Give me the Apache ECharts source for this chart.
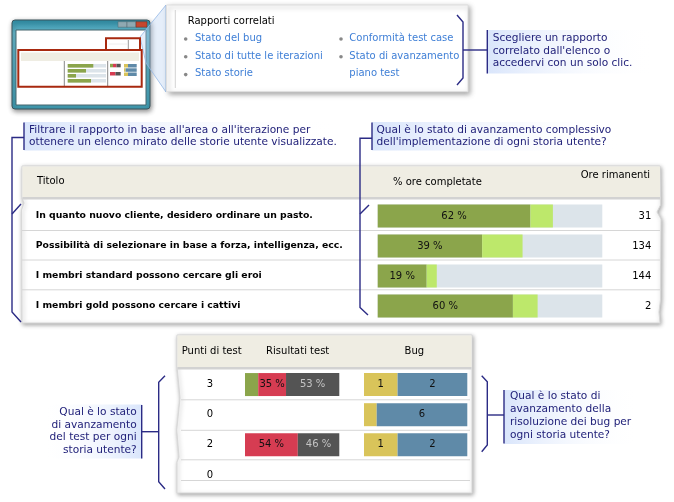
<!DOCTYPE html>
<html><head><meta charset="utf-8">
<script src="https://cdn.jsdelivr.net/npm/echarts@6/dist/echarts.min.js"></script>
<style>html,body{margin:0;padding:0;background:#fff}#c{width:674px;height:502px}</style>
</head><body><div id="c"></div>
<script>
// ---- data ----
const storyTitles = [
  "In quanto nuovo cliente, desidero ordinare un pasto.",
  "Possibilità di selezionare in base a forza, intelligenza, ecc.",
  "I membri standard possono cercare gli eroi",
  "I membri gold possono cercare i cattivi"
];
const hoursDoneWidth = [68, 46.5, 21.8, 60.2];
const hoursInProgressWidth = [10, 18, 4.5, 11];
const hoursDoneLabels = ["62 %", "39 %", "19 %", "60 %"];
const hoursRemaining = ["31", "134", "144", "2"];
const testPoints = ["3", "0", "2", "0"];
const testPassedWidth = [14, 0, 0, 0];
const testFailedWidth = [29.5, 0, 56, 0];
const testFailedLabels = ["35 %", "", "54 %", ""];
const testNotRunWidth = [56.5, 0, 44, 0];
const testNotRunLabels = ["53 %", "", "46 %", ""];
const bugActiveWidth = [32.5, 12.3, 32.5, 0];
const bugActiveLabels = ["1", "", "1", ""];
const bugResolvedWidth = [67.5, 87.7, 67.5, 0];
const bugResolvedLabels = ["2", "6", "2", ""];
const relatedReportsLeft = ["Stato del bug", "Stato di tutte le iterazioni", "Stato storie"];
const relatedReportsRight = ["Conformità test case", "Stato di avanzamento", "piano test"];

// ---- styles ----
const F = "DejaVu Sans";
const NAVY = "#22227a";
const BR = "#2b2b85";
const LINK = "#3f7fd6";
const SEP = "#d6d6d6";
const BEIGE = "#efede3";

function txt(x, y, s, opt) {
  opt = opt || {};
  return { type: 'text', x: x, y: y, z: 10, silent: true, style: {
    text: s, font: (opt.bold ? 'bold ' : '') + (opt.size || 10) + 'px ' + (opt.family || F),
    fill: opt.color || '#000', align: opt.align || 'left', textAlign: opt.align || 'left',
    verticalAlign: 'middle', textVerticalAlign: 'middle' } };
}
function line(x1, y1, x2, y2, color, w, z) {
  return { type: 'line', z: z == null ? 1 : z, silent: true, shape: { x1: x1, y1: y1, x2: x2, y2: y2 },
    style: { stroke: color, lineWidth: w || 1 } };
}
function poly(points, color, w) {
  return { type: 'polyline', z: 5, silent: true, shape: { points: points }, style: { stroke: color || BR, lineWidth: w || 1.4, fill: null } };
}
function rect(x, y, w, h, fill, extra) {
  const s = Object.assign({ fill: fill }, (extra && extra.style) || {});
  return Object.assign({ type: 'rect', z: (extra && extra.z != null) ? extra.z : 1, silent: true,
    shape: { x: x, y: y, width: w, height: h, r: (extra && extra.r) || 0 }, style: s });
}
function grad(rev) {
  const a = { offset: 0, color: rev ? 'rgba(255,255,255,0)' : '#d9e5fb' };
  const b = { offset: 1, color: rev ? '#d9e5fb' : 'rgba(255,255,255,0)' };
  return new echarts.graphic.LinearGradient(0, 0, 1, 0, [a, b]);
}

const g = [];
// ---------- thumbnail window ----------
g.push(rect(12, 20, 138, 89, new echarts.graphic.LinearGradient(0, 0, 0, 1, [{offset:0,color:'#2d8fa8'},{offset:0.15,color:'#64b3c6'},{offset:1,color:'#3f98ad'}]),
  { r: 3, style: { stroke: '#3b555c', lineWidth: 1, shadowBlur: 5, shadowColor: 'rgba(0,0,0,0.45)', shadowOffsetX: 1, shadowOffsetY: 2 } }));
g.push(rect(16, 30, 130, 75, '#ffffff', { style: { stroke: '#44646c', lineWidth: 1 } }));
g.push(rect(118, 21.7, 9, 5.5, '#8fa9b2', { z: 2, style: { stroke: '#50666c', lineWidth: 0.5 } }));
g.push(rect(127, 21.7, 9, 5.5, '#8fa9b2', { z: 2, style: { stroke: '#50666c', lineWidth: 0.5 } }));
g.push(rect(136, 21.7, 11, 5.5, '#c4472f', { z: 2, style: { stroke: '#6a2a20', lineWidth: 0.5 } }));
g.push(rect(106, 38.3, 34, 11.7, null, { z: 3, style: { stroke: '#a8290f', lineWidth: 2 } }));
g.push(line(128.3, 40, 128.3, 49, '#999', 1, 2));
g.push(line(109, 44, 127, 44, '#eee', 1, 2));
g.push(rect(18.3, 50, 123.4, 36.7, null, { z: 3, style: { stroke: '#a8290f', lineWidth: 2 } }));
g.push(rect(21, 52.5, 118, 8.5, BEIGE, { z: 2 }));
g.push(line(64.3, 61, 64.3, 86, '#888', 1, 2));
g.push(line(107.7, 61, 107.7, 86, '#888', 1, 2));
[[64, 25.6], [69, 18.3], [74, 8.3], [79, 23.3]].forEach(function (b) {
  g.push(rect(67.7, b[0], 38.3, 3.6, '#dce4ea', { z: 2 }));
  g.push(rect(67.7, b[0], b[1], 3.6, '#8ba54b', { z: 2 }));
});
g.push(rect(110, 63.8, 3, 3.5, '#8ba54b', { z: 2 })); g.push(rect(113, 63.8, 3.5, 3.5, '#d63c52', { z: 2 })); g.push(rect(116.5, 63.8, 4.2, 3.5, '#545454', { z: 2 }));
g.push(rect(110, 72, 5.5, 3.5, '#d63c52', { z: 2 })); g.push(rect(115.5, 72, 5.2, 3.5, '#545454', { z: 2 }));
[[64, 4], [68.3, 1.6], [72.5, 4]].forEach(function (b) {
  g.push(rect(124, b[0], b[1], 3.5, '#d9c45a', { z: 2 }));
  g.push(rect(124 + b[1], b[0], 12.7 - b[1], 3.5, '#5f8aa8', { z: 2 }));
});
// wedge to popup
g.push({ type: 'polygon', z: 1, silent: true, shape: { points: [[140, 37], [166, 5], [166, 92], [146, 63]] },
  style: { fill: 'rgba(180,205,240,0.35)', stroke: 'rgba(150,185,230,0.8)', lineWidth: 1 } });
// popup box
g.push(rect(166.5, 5, 301.5, 86.7, '#ffffff', { z: 2, style: { stroke: '#dedede', lineWidth: 1, shadowBlur: 5, shadowColor: 'rgba(0,0,0,0.35)', shadowOffsetX: 2, shadowOffsetY: 2 } }));
g.push(line(175.3, 10, 175.3, 88, '#d2d2d2', 1, 3));
g.push(txt(187.7, 21.5, "Rapporti correlati"));
relatedReportsLeft.forEach(function (s, i) {
  g.push({ type: 'circle', z: 4, silent: true, shape: { cx: 185.7, cy: 39 + i * 17.8, r: 1.8 }, style: { fill: '#888' } });
  g.push(txt(195, 38.3 + i * 17.8, s, { color: LINK }));
});
relatedReportsRight.forEach(function (s, i) {
  if (i < 2) g.push({ type: 'circle', z: 4, silent: true, shape: { cx: 341, cy: 39 + i * 17.8, r: 1.8 }, style: { fill: '#888' } });
  g.push(txt(349.3, 38.3 + i * 17.8, s, { color: LINK }));
});
// top-right callout
g.push(poly([[457, 15], [463, 22], [463, 78], [457, 85]]));
g.push(line(463, 50, 487, 50, BR, 1.4, 5));
g.push(rect(487.3, 30, 168, 43.5, grad(false)));
g.push(line(487.3, 30, 487.3, 73.5, BR, 1.4, 5));
["Scegliere un rapporto", "correlato dall'elenco o", "accedervi con un solo clic."].forEach(function (s, i) {
  g.push(txt(492.7, 38.3 + i * 12.6, s, { color: NAVY, size: 10.6 }));
});

// ---------- table 1 ----------
g.push({ type: 'polygon', z: 0, silent: true,
  shape: { points: [[22, 166], [660, 166], [660.5, 205], [657, 212], [661, 219], [660.5, 300], [659, 312], [660, 323], [22, 323], [21.5, 210], [24, 203], [22, 198]] },
  style: { fill: '#fff', stroke: '#d8d8d8', lineWidth: 1, shadowBlur: 4, shadowColor: 'rgba(0,0,0,0.35)', shadowOffsetX: 1, shadowOffsetY: 1.5 } });
g.push(rect(22.5, 166.5, 637.5, 30.5, BEIGE, { z: 1 }));
g.push(rect(22.5, 197, 637.5, 2.5, '#d2d2d2', { z: 1 }));
[230.5, 260, 289.8].forEach(function (y) { g.push(line(22, y, 660, y, SEP, 1, 1)); });
g.push(txt(37, 181, "Titolo"));
g.push(txt(393, 182, "% ore completate"));
g.push(txt(580.7, 175, "Ore rimanenti"));
// callouts for table 1
g.push(rect(24, 122, 318, 28.5, grad(false)));
g.push(line(24, 122.5, 24, 150, BR, 1.4, 5));
g.push(txt(29, 130, "Filtrare il rapporto in base all'area o all'iterazione per", { color: NAVY, size: 10.6 }));
g.push(txt(29, 142, "ottenere un elenco mirato delle storie utente visualizzate.", { color: NAVY, size: 10.6 }));
g.push(poly([[24, 137.5], [12, 137.5], [12, 312], [21, 322]]));
g.push(poly([[12, 214], [21, 204]]));
g.push(rect(372, 122, 250, 28.5, grad(false)));
g.push(line(372, 122.5, 372, 150, BR, 1.4, 5));
g.push(txt(376.5, 130, "Qual è lo stato di avanzamento complessivo", { color: NAVY, size: 10.6 }));
g.push(txt(376.5, 142, "dell'implementazione di ogni storia utente?", { color: NAVY, size: 10.6 }));
g.push(poly([[372, 138.3], [360, 138.3], [360, 307.5], [368, 315]]));
g.push(poly([[360, 214], [369, 205]]));

// ---------- table 2 ----------
g.push({ type: 'polygon', z: 0, silent: true,
  shape: { points: [[177, 335], [472, 335], [472, 493], [177, 493], [177, 462], [179, 457], [176.7, 430], [180, 398], [177.5, 372], [177, 367]] },
  style: { fill: '#fff', stroke: '#d8d8d8', lineWidth: 1, shadowBlur: 4, shadowColor: 'rgba(0,0,0,0.35)', shadowOffsetX: 1, shadowOffsetY: 1.5 } });
g.push(rect(177.5, 335.5, 294, 31.5, BEIGE, { z: 1 }));
g.push(rect(177.5, 367, 294, 2.5, '#d2d2d2', { z: 1 }));
[399.8, 430.3, 459.8, 480.5].forEach(function (y) { g.push(line(181, y, 470, y, SEP, 1, 1)); });
g.push(txt(181.7, 351, "Punti di test"));
g.push(txt(297.7, 351, "Risultati test", { align: 'center' }));
g.push(txt(414.3, 351, "Bug", { align: 'center' }));
// bottom-left callout
g.push(rect(42, 404.5, 100, 54, grad(true)));
g.push(line(141.7, 405, 141.7, 458.5, BR, 1.4, 5));
["Qual è lo stato", "di avanzamento", "del test per ogni", "storia utente?"].forEach(function (s, i) {
  g.push(txt(136.7, 412.3 + i * 12.6, s, { color: NAVY, size: 10.6, align: 'right' }));
});
g.push(poly([[165, 375.7], [158.7, 382.3], [158.7, 481.7], [165, 489]]));
g.push(line(141.7, 431.7, 158.7, 431.7, BR, 1.4, 5));
// bottom-right callout
g.push(poly([[481.7, 375.7], [487.3, 381.7], [487.3, 445], [481.7, 451.7]]));
g.push(line(487.3, 415, 504, 415, BR, 1.4, 5));
g.push(rect(504, 390, 136, 54, grad(false)));
g.push(line(504, 390, 504, 443.5, BR, 1.4, 5));
["Qual è lo stato di", "avanzamento della", "risoluzione dei bug per", "ogni storia utente?"].forEach(function (s, i) {
  g.push(txt(510, 396.7 + i * 12.8, s, { color: NAVY, size: 10.6 }));
});

// ---------- chart ----------
function hiddenX(idx) {
  return { type: 'value', gridIndex: idx, min: 0, max: 100, show: false };
}
function lbl(arr, color) {
  return { show: true, position: 'inside', color: color || '#111', fontFamily: F, fontSize: 10,
    formatter: function (p) { return arr[p.dataIndex]; } };
}
const chart = echarts.init(document.getElementById('c'), null, { renderer: 'canvas' });
chart.setOption({
  animation: false,
  backgroundColor: '#ffffff',
  grid: [
    { left: 377.7, top: 201, width: 224.6, height: 120 },
    { left: 245, top: 369.5, width: 94.3, height: 120.5 },
    { left: 364, top: 369.5, width: 103.3, height: 120.5 }
  ],
  xAxis: [hiddenX(0), hiddenX(1), hiddenX(2)],
  yAxis: [
    { type: 'category', gridIndex: 0, inverse: true, data: storyTitles,
      axisLine: { show: false }, axisTick: { show: false }, splitLine: { show: false },
      axisLabel: { align: 'left', margin: 342, color: '#000', fontFamily: F, fontWeight: 'bold', fontSize: 9.3 } },
    { type: 'category', gridIndex: 0, inverse: true, position: 'right', data: hoursRemaining,
      axisLine: { show: false }, axisTick: { show: false }, splitLine: { show: false },
      axisLabel: { align: 'right', margin: 49, color: '#000', fontFamily: F, fontSize: 10 } },
    { type: 'category', gridIndex: 1, inverse: true, data: testPoints,
      axisLine: { show: false }, axisTick: { show: false }, splitLine: { show: false },
      axisLabel: { align: 'center', margin: 35, color: '#000', fontFamily: F, fontSize: 10 } },
    { type: 'category', gridIndex: 2, inverse: true, data: testPoints, show: false }
  ],
  series: [
    { type: 'bar', name: 'Ore completate', xAxisIndex: 0, yAxisIndex: 0, stack: 'ore', barWidth: 23,
      data: hoursDoneWidth, itemStyle: { color: '#8ba54b' },
      showBackground: true, backgroundStyle: { color: '#dce4ea' }, label: lbl(hoursDoneLabels) },
    { type: 'bar', name: 'Ore in corso', xAxisIndex: 0, yAxisIndex: 0, stack: 'ore', barWidth: 23,
      data: hoursInProgressWidth, itemStyle: { color: '#bde86b' } },
    { type: 'bar', name: 'Superati', xAxisIndex: 1, yAxisIndex: 2, stack: 'test', barWidth: 23,
      data: testPassedWidth, itemStyle: { color: '#8ba54b' } },
    { type: 'bar', name: 'Non superati', xAxisIndex: 1, yAxisIndex: 2, stack: 'test', barWidth: 23,
      data: testFailedWidth, itemStyle: { color: '#d63c52' }, label: lbl(testFailedLabels) },
    { type: 'bar', name: 'Non eseguiti', xAxisIndex: 1, yAxisIndex: 2, stack: 'test', barWidth: 23,
      data: testNotRunWidth, itemStyle: { color: '#545454' }, label: lbl(testNotRunLabels, '#c4c4c4') },
    { type: 'bar', name: 'Bug attivi', xAxisIndex: 2, yAxisIndex: 3, stack: 'bug', barWidth: 23,
      data: bugActiveWidth, itemStyle: { color: '#d9c45a' }, label: lbl(bugActiveLabels) },
    { type: 'bar', name: 'Bug risolti', xAxisIndex: 2, yAxisIndex: 3, stack: 'bug', barWidth: 23,
      data: bugResolvedWidth, itemStyle: { color: '#5f8aa8' }, label: lbl(bugResolvedLabels) }
  ],
  graphic: { elements: g }
});
</script>
</body></html>
